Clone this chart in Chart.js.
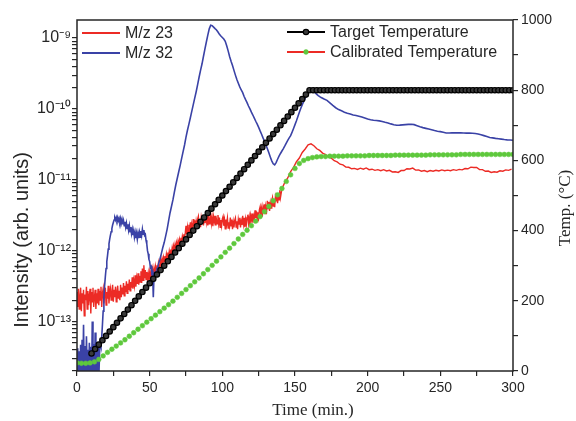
<!DOCTYPE html>
<html>
<head>
<meta charset="utf-8">
<script src="https://cdn.jsdelivr.net/npm/chart.js@4.4.0/dist/chart.umd.min.js"></script>
<style>
  html, body { margin: 0; padding: 0; background: #fff; }
  #wrap { width: 576px; height: 421px; }
</style>
</head>
<body>
<div id="wrap"><canvas id="tpd" width="576" height="421"></canvas></div>
<script>
'use strict';

/* ---------------- data ---------------- */

// intensities are written in units of 1e-13 (arb. units)
const UNIT = 1e-13;

// M/z 23, sampled every 0.5 min from t = 0
const m23Early = [
    2.6,1.6,2.9,1.5,2.2,3.0,1.4,2.5,1.8,2.8, 1.2,2.4,2.0,3.1,1.5,2.7,1.7,2.3,2.9,1.3,
    2.6,1.9,3.0,1.6,2.2,2.8,1.5,2.5,1.8,2.9, 1.7,2.7,2.0,3.1,1.6,2.5,2.9,1.8,2.4,3.0,
    1.7,2.6,2.1,3.2,1.8,2.5,2.9,2.0,2.6,3.3, 1.9,2.8,2.2,3.1,1.9,2.6,3.2,2.1,2.7,2.0,
    3.3,2.2,3.0,2.4,3.5,2.3,3.2,2.6,3.7,2.5, 3.4,2.8,3.9,2.7,3.6,3.0,4.2,2.9,3.8,3.2,
    4.5,3.1,4.1,3.4,4.8,3.3,4.4,3.6,5.1,3.5, 5.6,3.8,6.2,4.1,5.3,3.9,5.0,4.0,4.8,3.8,
    4.9,4.0,5.2,4.3,5.4,4.4,5.6,4.7,5.9,4.9,6.2,5.1,6.5,5.4,
    6.3,7.4,6.2,7.6,6.6,8.0,7.0,8.4,7.3,8.9, 7.7,9.4,8.1,9.8,8.6,10.4,9.1,11.0,9.6,11.6,
    10.1,12.2,10.7,12.9,11.3,13.6,12.0,14.4,12.7,15.2, 13.4,16.0,14.2,17.0,15.0,17.8
];
// M/z 23, every 0.5 min from t = 75 to 140
const m23Mid = [
    22.4,17.2,21.2,16.6,23.1,20.3,25.1,18.6,23.0,20.6, 27.8,21.7,26.9,20.0,25.8,21.9,27.8,30.4,22.9,27.8,
    21.5,29.3,25.5,30.9,22.7,27.6,24.5,32.8,25.3,30.8, 22.6,28.6,23.9,30.0,32.5,24.2,29.2,22.2,30.0,25.8,
    31.1,22.6,27.3,24.0,31.8,24.2,29.3,21.4,27.0,22.5, 28.1,30.3,22.4,26.9,20.4,27.6,23.8,28.6,20.8,25.1,
    22.1,29.4,22.5,27.4,20.1,25.5,21.3,26.7,28.9,21.6, 26.0,20.0,27.5,23.8,29.0,21.3,26.0,23.1,31.0,23.8,
    29.1,21.5,27.6,23.3,29.4,32.2,24.2,29.4,22.7,31.2, 27.3,33.5,24.8,30.6,27.5,37.2,29.0,36.0,26.8,34.7,
    29.6,37.7,41.5,31.5,38.7,30.1,41.5,36.4,44.9,33.4, 41.3,37.1,50.4,39.3,48.7,36.3,46.8,39.9,50.9,56.2,
    42.7,52.6,41.1,57.0,50.4,62.4,46.6,57.9,52.2,71.4, 56.1
];
// M/z 23, every 2 min from t = 141
const m23Late = [
    75,92,106,130,150,180,203,243,272,312,
    322,302,274,260,238,227,210,202,186,179,
    166,162,151,150,143,145,140,146,141,147,
    139,141,136,139,134,139,133,136,129,130,
    127,135,135,143,142,146,137,138,132,135,
    130,135,132,136,133,138,134,137,134,139,
    136,140,138,144,143,151,149,149,139,139,
    132,133,127,130,128,134,132,138,136,141
];

// M/z 32, every 0.5 min from t = 0 to 56
const m32Early = [
    0.15,0.42,0.12,0.38,0.18,0.47,0.13,0.55,0.16,0.9, 0.14,0.45,0.12,0.62,0.2,0.4,0.13,0.5,0.15,0.44,
    0.12,1.0,0.16,0.48,0.13,0.7,0.14,0.45,0.12,0.5,0.15,
    0.35,0.5,0.45,0.6,0.9,1.4,2.2,3.2,4.3,5.6, 7.0,8.5,10.5,12.5,14.5,16.5,18.5,20.5,23,25,
    27,29,27,29.5,27,29.5,26.5,28.5,25.5,
    28.5,24.5,27.5,23.5,26.5,22.5,25.5,21.5,24.5,20.5, 23.5,19.5,22.5,18.5,21.5,17.5,20.0,16.5,19.0,15.5,
    18.0,15.0,17.5,14.5,17.5,15.0,18.0,15.5,19.0,16.5, 20.0,17.0,19.5,16.5,17.0,14.0,12.5,10.0,9.0,7.5,
    7.0,5.8,6.0,4.8,5.0,2.2,4.5,4.2,5.0,4.9, 5.6,5.6,6.4
];
// M/z 32 after t = 57 (time, value)
const t32Late = [
    57,58,59,60,61,62,63,64,65,66,67,68,69,70,71,72,73,74,75,76,77,78,79,80,81,82,83,84,85,86,
    87,88,89,90,91,92,93,94,95,96,97,98,99,100,101,102,103,104,105,106,107,108,109,110,111,112,
    113,114,115,116,117,118,119,120,121,122,123,124,125,126,127,128,129,130,131,132,133,134,135,
    136,137,138,139,140,141,142,143,144,145,146,147,148,149,150,151,152,153,154,155,156,157,158,
    159,160,161,162,163,164,165,166,167,168,170,172,174,176,178,180,182,184,186,188,190,192,194,
    196,198,200,202,204,206,208,210,212,214,216,218,220,222,224,226,228,230,232,234,236,238,240,
    242,244,246,248,250,252,254,256,258,260,262,264,266,268,270,272,274,276,278,280,282,284,286,
    288,290,292,294,296,298,300
];
const m32Late = [
    7.5,9,11,13,16,20,26,34,42,52,67,85,105,130,160,200,250,310,400,500,610,750,930,1150,1420,1750,2200,2800,3500,4300,
    5500,7000,8800,11000,13500,15200,15000,14300,13600,13000,12200,11300,10700,10200,9700,9000,7800,6600,5500,4700,4100,3500,3000,2600,2300,2050,
    1850,1700,1500,1350,1230,1100,1000,900,820,740,670,610,550,490,440,390,350,310,275,240,210,185,168,
    162,175,195,215,235,255,275,300,330,360,390,420,470,530,600,680,780,900,1020,1150,1280,1420,1580,
    1720,1800,1820,1800,1750,1680,1600,1540,1490,1450,1380,1320,1220,1120,1040,980,940,900,870,850,820,810,790,
    770,745,720,705,693,685,678,665,648,635,615,598,589,590,595,600,606,608,600,580,560,545,532,
    520,508,495,485,478,468,458,458,460,461,460,459,458,456,455,453,450,442,432,420,408,396,390,
    384,380,375,370,366,364,362
];

// target temperature (°C), every 2.5 min from t = 10
const tempTarget = [
    50,62.5,75,87.5,100,112.5,125,137.5,150,162.5,175,187.5,200,212.5,225,237.5,250,262.5,275,287.5,
    300,312.5,325,337.5,350,362.5,375,387.5,400,412.5,425,437.5,450,462.5,475,487.5,500,512.5,525,537.5,
    550,562.5,575,587.5,600,612.5,625,637.5,650,662.5,675,687.5,700,712.5,725,737.5,750,762.5,775,787.5,800,
    800,800,800,800,800,800,800,800, 800,800,800,800,800,800,800,800,
    800,800,800,800,800,800,800,800, 800,800,800,800,800,800,800,800,
    800,800,800,800,800,800,800,800, 800,800,800,800,800,800,800,800,
    800,800,800,800,800,800,800,800
];
// calibrated temperature (°C), every 3 min from t = 0
const tempCal = [
    23,22,22,23,26,33,43,53,62,71, 80,89,99,109,119,129,139,149,159,169,
    179,189,199,210,221,232,243,254,265,277, 289,301,313,325,338,350,363,376,389,401,
    414,427,440,454,469,485,502,520,540,559, 577,591,600,605,608,610,611,611,612,612,
    612,612,613,613,613,613,613,614,614,614, 614,614,614,615,615,615,615,615,615,615,
    615,616,616,616,616,616,616,616,617,617, 617,617,617,617,617,617,617,617,617,617,
    617
];

// axis ticks
const timeTicks = [0, 50, 100, 150, 200, 250, 300];
const tempTicks = [0, 200, 400, 600, 800, 1000];
const decades = [1e-13, 1e-12, 1e-11, 1e-10, 1e-9];
const decadeLabels = ['10⁻¹³', '10⁻¹²', '10⁻¹¹', '10⁻¹⁰', '10⁻⁹'];

/* ---------------- helpers ---------------- */

const SANS = '"Liberation Sans", Arial, sans-serif';
const SERIF = '"Liberation Serif", "Times New Roman", serif';
const INK = '#262626';
const INT_MIN = 2e-14, INT_MAX = 1.8e-9;

function sampled(vals, t0, step, k) {
    return vals.map((v, i) => ({ x: t0 + i * step, y: v * (k || 1) }));
}
function paired(ts, vals, k) {
    return ts.map((t, i) => ({ x: t, y: vals[i] * (k || 1) }));
}

var m23 = sampled(m23Early, 0, 0.5, UNIT)
    .concat(sampled(m23Mid, 75, 0.5, UNIT))
    .concat(sampled(m23Late, 141, 2, UNIT));
var m32 = sampled(m32Early, 0, 0.5, UNIT).concat(paired(t32Late, m32Late, UNIT));

// tick positions for the log axis: 1..9 x each decade
var logTicks = [];
[1e-14].concat(decades).forEach(function (d) {
    for (var m = 1; m <= 9; m++) {
        var v = m * d;
        if (v >= INT_MIN * 0.999 && v <= INT_MAX) logTicks.push(v);
    }
});

/* ---------------- frame, legends, titles ---------------- */

var decor = {
    id: 'decor',
    afterDraw: function (chart) {
        var ctx = chart.ctx, a = chart.chartArea;
        var ds = chart.data.datasets;
        ctx.save();

        ctx.strokeStyle = INK;
        ctx.lineWidth = 1.5;
        ctx.strokeRect(a.left, a.top, a.right - a.left, a.bottom - a.top);

        // two legend blocks
        var blocks = [
            { x: a.left + 5, y: a.top + 13, items: [0, 1] },
            { x: a.left + 210, y: a.top + 12, items: [2, 3] }
        ];
        ctx.font = '16px ' + SANS;
        ctx.textBaseline = 'middle';
        ctx.textAlign = 'left';
        blocks.forEach(function (b) {
            b.items.forEach(function (idx, j) {
                var d = ds[idx], y = b.y + j * 20;
                ctx.strokeStyle = d.borderColor;
                ctx.lineWidth = 1.8;
                ctx.beginPath();
                ctx.moveTo(b.x, y);
                ctx.lineTo(b.x + 38, y);
                ctx.stroke();
                if (d.pointRadius > 0) {
                    ctx.beginPath();
                    ctx.arc(b.x + 19, y, d.pointRadius, 0, Math.PI * 2);
                    ctx.fillStyle = d.pointBackgroundColor;
                    ctx.fill();
                    ctx.lineWidth = d.pointBorderWidth;
                    ctx.strokeStyle = d.pointBorderColor;
                    ctx.stroke();
                }
                ctx.fillStyle = INK;
                ctx.fillText(d.label, b.x + 43, y + 1);
            });
        });

        // axis titles
        ctx.fillStyle = INK;
        ctx.textAlign = 'center';
        ctx.font = '17px ' + SERIF;
        ctx.fillText('Time (min.)', a.left + 236, 411);

        ctx.save();
        ctx.translate(22, 240);
        ctx.rotate(-Math.PI / 2);
        ctx.font = '20px ' + SANS;
        ctx.fillText('Intensity (arb. units)', 0, 0);
        ctx.restore();

        ctx.save();
        ctx.translate(566, 208);
        ctx.rotate(-Math.PI / 2);
        ctx.font = '17px ' + SERIF;
        ctx.fillText('Temp. (°C)', 0, 0);
        ctx.restore();

        ctx.restore();
    }
};

/* ---------------- chart ---------------- */

var tickFont = { family: SANS, size: 14 };
var axisGrid = { drawOnChartArea: false, color: INK, lineWidth: 1.2, tickLength: 5 };

new Chart(document.getElementById('tpd'), {
    type: 'line',
    data: {
        datasets: [
            {
                label: 'M/z 23',
                data: m23,
                yAxisID: 'y',
                borderColor: '#ec2b25',
                borderWidth: 1.4,
                pointRadius: 0,
                order: 4
            },
            {
                label: 'M/z 32',
                data: m32,
                yAxisID: 'y',
                borderColor: '#3a42a6',
                borderWidth: 1.6,
                pointRadius: 0,
                order: 3
            },
            {
                label: 'Target Temperature',
                data: sampled(tempTarget, 10, 2.5),
                yAxisID: 'y2',
                borderColor: '#000',
                borderWidth: 1,
                pointRadius: 2.7,
                pointBackgroundColor: '#3a3a3a',
                pointBorderColor: '#000',
                pointBorderWidth: 1.2,
                order: 1
            },
            {
                label: 'Calibrated Temperature',
                data: sampled(tempCal, 0, 3),
                yAxisID: 'y2',
                showLine: false,
                borderColor: '#ec2b25',
                pointRadius: 2.4,
                pointBackgroundColor: '#5ec83c',
                pointBorderColor: '#5ec83c',
                pointBorderWidth: 0.5,
                order: 2
            }
        ]
    },
    options: {
        responsive: false,
        animation: false,
        devicePixelRatio: 1,
        layout: { padding: { top: 20, left: 0, right: 0, bottom: 0 } },
        plugins: {
            legend: { display: false },
            tooltip: { enabled: false }
        },
        scales: {
            x: {
                type: 'linear',
                min: 0,
                max: 300,
                border: { display: false },
                grid: axisGrid,
                ticks: {
                    stepSize: 25,
                    autoSkip: false,
                    maxRotation: 0,
                    padding: 4,
                    color: INK,
                    font: tickFont,
                    callback: function (v) { return timeTicks.indexOf(v) >= 0 ? String(v) : ''; }
                },
                afterFit: function (s) { s.height = 50; }
            },
            y: {
                type: 'logarithmic',
                position: 'left',
                min: INT_MIN,
                max: INT_MAX,
                border: { display: false },
                grid: axisGrid,
                ticks: {
                    autoSkip: false,
                    padding: 1,
                    color: INK,
                    font: { family: SANS, size: 16 },
                    callback: function (v) {
                        for (var i = 0; i < decades.length; i++) {
                            if (Math.abs(v / decades[i] - 1) < 1e-6) return decadeLabels[i];
                        }
                        return '';
                    }
                },
                afterBuildTicks: function (s) {
                    s.ticks = logTicks.map(function (v) { return { value: v }; });
                },
                afterFit: function (s) { s.width = 77; }
            },
            y2: {
                type: 'linear',
                position: 'right',
                min: 0,
                max: 1000,
                border: { display: false },
                grid: axisGrid,
                ticks: {
                    stepSize: 100,
                    autoSkip: false,
                    padding: 3,
                    color: INK,
                    font: tickFont,
                    callback: function (v) { return tempTicks.indexOf(v) >= 0 ? String(v) : ''; }
                },
                afterFit: function (s) { s.width = 63; }
            }
        }
    },
    plugins: [decor]
});
</script>
</body>
</html>
